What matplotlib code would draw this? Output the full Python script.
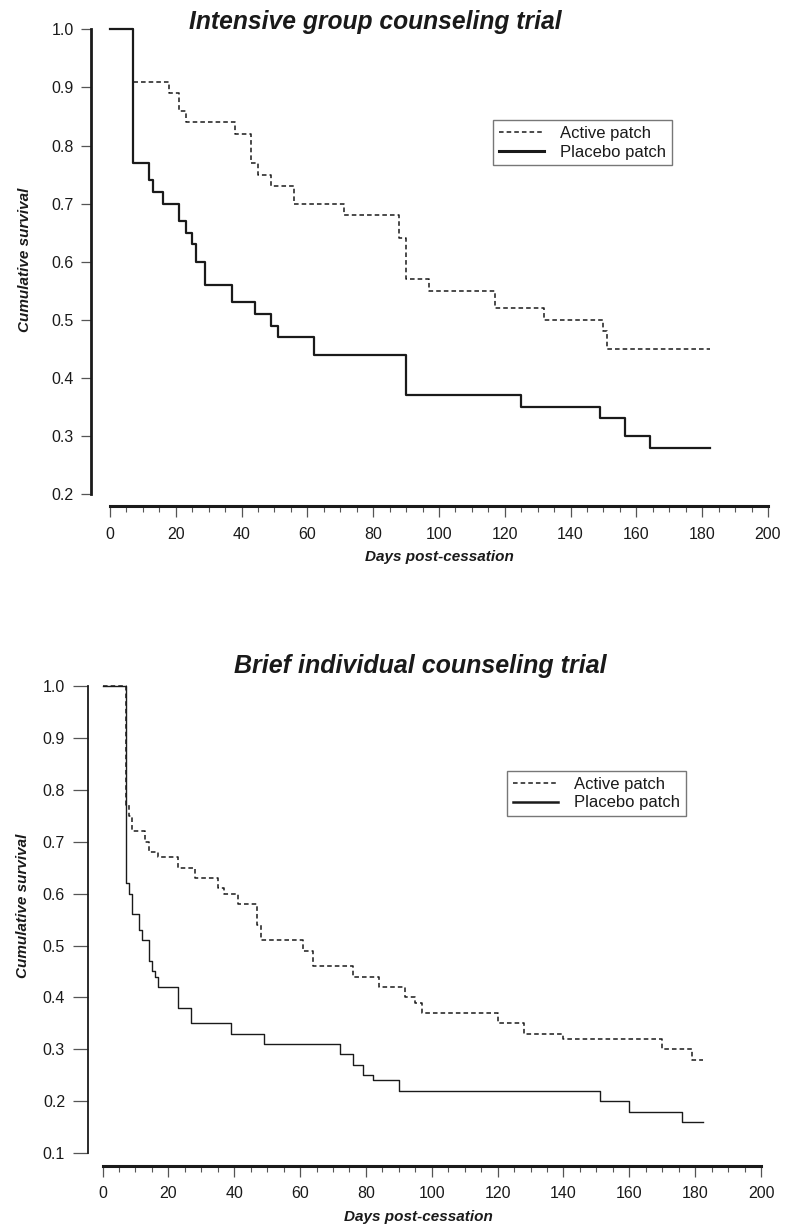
import matplotlib
matplotlib.use('Agg')
import matplotlib.pyplot as plt
from matplotlib.ticker import MultipleLocator, FormatStrFormatter

plt.rcParams['font.family'] = ['Liberation Sans', 'DejaVu Sans']

# Intensive group counseling trial - survival step values (days, cumulative survival)
days_active_1 = [0, 7, 18, 21, 23, 38, 43, 45, 49, 56, 71, 88, 90, 97, 117, 132, 150, 151, 182.5]
surv_active_1 = [1.0, 0.91, 0.89, 0.86, 0.84, 0.82, 0.77, 0.75, 0.73, 0.70, 0.68, 0.64, 0.57,
                 0.55, 0.52, 0.50, 0.48, 0.45, 0.45]
days_placebo_1 = [0, 7, 12, 13, 16, 21, 23, 25, 26, 29, 37, 44, 49, 51, 62, 90, 125, 149, 156.5,
                  164, 182.5]
surv_placebo_1 = [1.0, 0.77, 0.74, 0.72, 0.70, 0.67, 0.65, 0.63, 0.60, 0.56, 0.53, 0.51, 0.49,
                  0.47, 0.44, 0.37, 0.35, 0.33, 0.30, 0.28, 0.28]

# Brief individual counseling trial
days_active_2 = [0, 7, 8, 9, 13, 14, 17, 23, 28, 35, 37, 41, 47, 48, 61, 64, 76, 84, 92, 95, 97,
                 120, 128, 140, 170, 179, 182.5]
surv_active_2 = [1.0, 0.77, 0.75, 0.72, 0.70, 0.68, 0.67, 0.65, 0.63, 0.61, 0.60, 0.58, 0.54,
                 0.51, 0.49, 0.46, 0.44, 0.42, 0.40, 0.39, 0.37, 0.35, 0.33, 0.32, 0.30, 0.28, 0.28]
days_placebo_2 = [0, 7, 8, 9, 11, 12, 14, 15, 16, 17, 23, 27, 39, 49, 72, 76, 79, 82, 90, 151,
                  160, 176, 182.5]
surv_placebo_2 = [1.0, 0.62, 0.60, 0.56, 0.53, 0.51, 0.47, 0.45, 0.44, 0.42, 0.38, 0.35, 0.33,
                  0.31, 0.29, 0.27, 0.25, 0.24, 0.22, 0.20, 0.18, 0.16, 0.16]

titles = ['Intensive group counseling trial', 'Brief individual counseling trial']
legend_labels = ['Active patch', 'Placebo patch']

INK = '#1a1a1a'


def draw_panel(ax, d_act, s_act, d_plc, s_plc, ymin, lw_plc, lw_leg, left_off, ytick_len,
               ylab_xy, xlab_x, yspine_w, leg_anchor):
    ax.step(d_act, s_act, where='post', color=INK, lw=1.1, dashes=(3, 2), clip_on=False,
            label=legend_labels[0])
    ax.step(d_plc, s_plc, where='post', color=INK, lw=lw_plc, clip_on=False,
            label=legend_labels[1])

    ax.set_xlim(0, 200)
    ax.set_ylim(ymin, 1.0)
    ax.xaxis.set_major_locator(MultipleLocator(20))
    ax.xaxis.set_minor_locator(MultipleLocator(5))
    ax.yaxis.set_major_locator(MultipleLocator(0.1))
    ax.yaxis.set_major_formatter(FormatStrFormatter('%.1f'))

    for s in ['top', 'right']:
        ax.spines[s].set_visible(False)
    ax.spines['left'].set_position(('outward', left_off))
    ax.spines['bottom'].set_position(('outward', 9))
    ax.spines['left'].set_linewidth(yspine_w)
    ax.spines['bottom'].set_linewidth(2.2)
    ax.spines['left'].set_color(INK)
    ax.spines['bottom'].set_color(INK)

    ax.tick_params(axis='y', length=ytick_len, width=0.9, color='#555555', pad=5.5,
                   labelsize=11.5, labelcolor=INK)
    ax.tick_params(axis='x', which='major', length=8, width=0.9, color='#555555', pad=6.5,
                   labelsize=11.5, labelcolor=INK)
    ax.tick_params(axis='x', which='minor', length=4.5, width=0.8, color='#555555')

    ax.set_ylabel('Cumulative survival', fontsize=11, fontweight='bold', fontstyle='italic',
                  color=INK)
    ax.yaxis.set_label_coords(*ylab_xy)
    ax.set_xlabel('Days post-cessation', fontsize=11, fontweight='bold', fontstyle='italic',
                  color=INK)
    ax.xaxis.set_label_coords(xlab_x, -0.121)

    leg = ax.legend(loc='upper left', bbox_to_anchor=leg_anchor, bbox_transform=fig.transFigure,
                    fontsize=12, frameon=True, fancybox=False, borderpad=0.35,
                    handlelength=2.7, handletextpad=1.0, labelspacing=0.22, borderaxespad=0)
    leg.get_frame().set_edgecolor('#555555')
    leg.get_frame().set_linewidth(1.0)
    leg.get_lines()[1].set_linewidth(lw_leg)
    for t in leg.get_texts():
        t.set_color(INK)


fig = plt.figure(figsize=(7.85, 12.26), dpi=100)

ax1 = fig.add_axes([0.1401, 0.5971, 0.8382, 0.3789])
draw_panel(ax1, days_active_1, surv_active_1, days_placebo_1, surv_placebo_1, 0.2,
           lw_plc=1.6, lw_leg=2.2, left_off=13.5, ytick_len=7, ylab_xy=(-0.118, 0.505),
           xlab_x=0.5, yspine_w=2.0, leg_anchor=(493 / 785, 1 - 120 / 1226))

ax2 = fig.add_axes([0.1306, 0.0595, 0.8389, 0.3809])
draw_panel(ax2, days_active_2, surv_active_2, days_placebo_2, surv_placebo_2, 0.1,
           lw_plc=1.0, lw_leg=1.8, left_off=10.5, ytick_len=11, ylab_xy=(-0.11, 0.53),
           xlab_x=0.48, yspine_w=1.3, leg_anchor=(507 / 785, 1 - 771 / 1226))

fig.text(375 / 785, 1 - 22 / 1226, titles[0], ha='center', va='center', fontsize=17.7,
         fontweight='bold', fontstyle='italic', color=INK)
fig.text(420 / 785, 1 - 666 / 1226, titles[1], ha='center', va='center', fontsize=18,
         fontweight='bold', fontstyle='italic', color=INK)

fig.savefig('out.png', dpi=100)
